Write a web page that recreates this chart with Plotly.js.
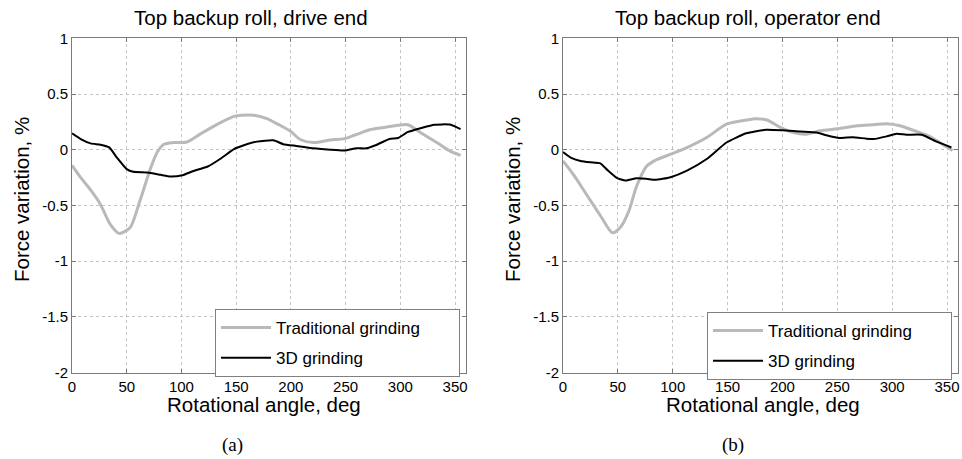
<!DOCTYPE html>
<html>
<head>
<meta charset="utf-8">
<script src="https://cdn.plot.ly/plotly-3.0.1.min.js"></script>
<style>html,body{margin:0;padding:0;background:#fff;}#chart{width:962px;height:459px;}</style>
</head>
<body>
<div id="chart"></div>
<script>
// ---- Data ----
var seriesNames = ["Traditional grinding", "3D grinding"];
var panelTitles = ["Top backup roll, drive end", "Top backup roll, operator end"];
var panelLabels = ["(a)", "(b)"];
var xTickVals = [0, 50, 100, 150, 200, 250, 300, 350];
var yTickVals = [-2, -1.5, -1, -0.5, 0, 0.5, 1];
var yTickText = ["-2", "-1.5", "-1", "-0.5", "0", "0.5", "1"];

// (a) drive end, traditional grinding
var angleA_trad = [0, 8, 17, 26, 35, 43, 53, 62, 72, 78, 84, 93, 105, 117, 133, 148, 155, 166, 178, 188, 199, 209, 221, 236, 249, 258, 272, 285, 298, 307, 319, 334, 346, 355];
var forceA_trad = [-0.14, -0.25, -0.36, -0.49, -0.67, -0.75, -0.70, -0.46, -0.16, -0.02, 0.05, 0.065, 0.07, 0.14, 0.23, 0.30, 0.31, 0.31, 0.28, 0.23, 0.17, 0.09, 0.065, 0.088, 0.10, 0.13, 0.18, 0.20, 0.22, 0.225, 0.15, 0.06, -0.015, -0.05];
// (a) drive end, 3D grinding
var angleA_3d = [0, 8, 17, 26, 34, 41, 50, 56, 69, 81, 90, 101, 111, 124, 136, 148, 157, 169, 184, 193, 205, 221, 236, 249, 260, 269, 278, 290, 298, 307, 319, 331, 346, 355];
var forceA_3d = [0.147, 0.096, 0.057, 0.045, 0.021, -0.07, -0.174, -0.198, -0.204, -0.225, -0.24, -0.228, -0.19, -0.15, -0.078, 0.006, 0.04, 0.073, 0.085, 0.05, 0.034, 0.013, 0, -0.007, 0.013, 0.013, 0.043, 0.097, 0.105, 0.16, 0.195, 0.225, 0.225, 0.185];
// (b) operator end, traditional grinding
var angleB_trad = [0, 10, 22, 34, 45, 52, 60, 67, 76, 84, 98, 113, 131, 149, 167, 176, 186, 198, 210, 222, 234, 252, 268, 283, 295, 307, 322, 334, 349, 355];
var forceB_trad = [-0.10, -0.23, -0.41, -0.59, -0.745, -0.70, -0.55, -0.33, -0.15, -0.095, -0.04, 0.02, 0.11, 0.23, 0.267, 0.279, 0.267, 0.20, 0.154, 0.14, 0.17, 0.19, 0.215, 0.225, 0.234, 0.216, 0.165, 0.12, 0.03, -0.006];
// (b) operator end, 3D grinding
var angleB_3d = [0, 7, 16, 25, 34, 41, 49, 57, 67, 76, 84, 98, 113, 131, 149, 167, 185, 200, 216, 231, 240, 252, 264, 276, 283, 295, 304, 313, 327, 340, 354];
var forceB_3d = [-0.02, -0.07, -0.10, -0.113, -0.122, -0.187, -0.252, -0.276, -0.255, -0.26, -0.27, -0.246, -0.187, -0.083, 0.065, 0.148, 0.18, 0.175, 0.163, 0.154, 0.13, 0.105, 0.113, 0.10, 0.096, 0.12, 0.144, 0.135, 0.135, 0.075, 0.02];

// ---- Styling / layout ----
var W = 962, H = 459;
function px(x) { return x / W; }
function py(y) { return 1 - y / H; }
var FONT = "Liberation Sans, Arial, Helvetica, sans-serif";
var grayColor = "#b9b9b9", blackColor = "#000000";
var PAD = "\u00a0\u00a0\u00a0\u00a0\u00a0\u00a0\u00a0";  // widens the legend box like the reference

var traces = [
  {x: angleA_trad, y: forceA_trad, name: seriesNames[0] + PAD, xaxis: "x", yaxis: "y", legend: "legend", legendgroup: "a1",
   mode: "lines", line: {color: grayColor, width: 3, shape: "spline", smoothing: 0.7}},
  {x: angleA_3d, y: forceA_3d, name: seriesNames[1], xaxis: "x", yaxis: "y", legend: "legend", legendgroup: "a2",
   mode: "lines", line: {color: blackColor, width: 2, shape: "spline", smoothing: 0.5}},
  {x: angleB_trad, y: forceB_trad, name: seriesNames[0] + PAD, xaxis: "x2", yaxis: "y2", legend: "legend2", legendgroup: "b1",
   mode: "lines", line: {color: grayColor, width: 3, shape: "spline", smoothing: 0.7}},
  {x: angleB_3d, y: forceB_3d, name: seriesNames[1], xaxis: "x2", yaxis: "y2", legend: "legend2", legendgroup: "b2",
   mode: "lines", line: {color: blackColor, width: 2, shape: "spline", smoothing: 0.5}}
];

function xAxis(dom, anchor) {
  return {domain: dom, anchor: anchor, range: [0, 360], tickvals: xTickVals, ticktext: xTickVals.map(String),
    showline: true, linecolor: "#7a7a7a", linewidth: 1, mirror: "ticks", ticks: "inside", ticklen: 4,
    tickcolor: "#7a7a7a", showgrid: true, gridcolor: "#c4c4c4", griddash: "dot", gridwidth: 1,
    zeroline: false, tickfont: {family: FONT, size: 15, color: "#000"}, fixedrange: true};
}
function yAxis(dom, anchor) {
  return {domain: dom, anchor: anchor, range: [-2, 1], tickvals: yTickVals, ticktext: yTickText,
    showline: true, linecolor: "#7a7a7a", linewidth: 1, mirror: "ticks", ticks: "inside", ticklen: 4,
    tickcolor: "#7a7a7a", showgrid: true, gridcolor: "#c4c4c4", griddash: "dot", gridwidth: 1,
    zeroline: false, tickfont: {family: FONT, size: 15, color: "#000"}, fixedrange: true};
}
var yDom = [py(372.7), py(38.3)];

function legendCfg(x, y) {
  return {x: px(x), y: py(y), xanchor: "left", yanchor: "top", xref: "paper", yref: "paper",
    bgcolor: "#ffffff", bordercolor: "#808080", borderwidth: 1,
    font: {family: FONT, size: 17, color: "#000"}, traceorder: "grouped", tracegroupgap: 5,
    itemwidth: 50};
}

function ann(text, x, y, size, family, angle) {
  return {text: text, x: px(x), y: py(y), xref: "paper", yref: "paper", showarrow: false,
    xanchor: "center", yanchor: "middle", textangle: angle || 0,
    font: {family: family || FONT, size: size, color: "#000"}};
}

var layout = {
  width: W, height: H, margin: {l: 0, r: 0, t: 0, b: 0},
  paper_bgcolor: "#ffffff", plot_bgcolor: "#ffffff", showlegend: true,
  xaxis: xAxis([px(72), px(466)], "y"),
  yaxis: yAxis(yDom, "x"),
  xaxis2: xAxis([px(563), px(958)], "y2"),
  yaxis2: yAxis(yDom, "x2"),
  legend: legendCfg(215, 309),
  legend2: legendCfg(707, 312),
  annotations: [
    ann(panelTitles[0], 251, 18, 20.5),
    ann(panelTitles[1], 748, 18, 20.5),
    ann("Rotational angle, deg", 264, 404, 20.5),
    ann("Rotational angle, deg", 763, 404, 20.5),
    ann("Force variation, %", 21, 200, 20.5, FONT, -90),
    ann("Force variation, %", 512, 200, 20.5, FONT, -90),
    ann(panelLabels[0], 232, 445, 19, "Liberation Serif, Times New Roman, serif"),
    ann(panelLabels[1], 733, 445, 19, "Liberation Serif, Times New Roman, serif")
  ]
};

Plotly.newPlot("chart", traces, layout, {staticPlot: true, displayModeBar: false});
</script>
</body>
</html>
